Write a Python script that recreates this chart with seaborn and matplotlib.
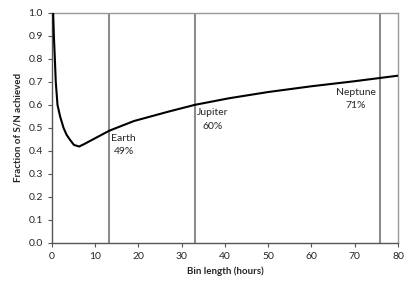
import matplotlib
matplotlib.use('Agg')
import matplotlib.pyplot as plt
import seaborn as sns
import pandas as pd

# Curve
bin_hours = [0.3, 0.46, 0.69, 0.9, 1.3, 1.9, 2.7, 3.4, 4.2, 5.1, 6.3, 7.5, 9.0, 11.0,
             13.3, 16, 19, 22.7, 27, 33, 41, 50, 60, 70, 75.8, 80]
sn_fraction = [1.0, 0.9, 0.8, 0.7, 0.6, 0.55, 0.5, 0.47, 0.448, 0.426, 0.419, 0.43, 0.445, 0.465,
               0.488, 0.508, 0.53, 0.549, 0.571, 0.60, 0.629, 0.656, 0.681, 0.703, 0.717, 0.727]

planets = ['Earth', 'Jupiter', 'Neptune']
planet_hours = [13.2, 33.1, 75.8]
planet_pct = ['49%', '60%', '71%']
label_x = [16.6, 37.1, 70.3]
name_y = [0.456, 0.565, 0.652]
pct_y = [0.396, 0.504, 0.596]

sns.set_style('white')
plt.rcParams['font.family'] = ['Lato', 'DejaVu Sans']

df = pd.DataFrame({'hours': bin_hours, 'frac': sn_fraction})

fig = plt.figure(figsize=(4.15, 2.93), dpi=100)
ax = fig.add_axes([0.125, 0.171, 0.834, 0.785])

for h in planet_hours:
    ax.axvline(h, color='#8c8c8c', lw=1.5, zorder=1)

sns.lineplot(data=df, x='hours', y='frac', color='black', lw=1.5, ax=ax, zorder=3)

for name, pct, lx, ny, py in zip(planets, planet_pct, label_x, name_y, pct_y):
    ax.text(lx, ny, name, ha='center', va='center', fontsize=7.5)
    ax.text(lx, py, pct, ha='center', va='center', fontsize=7.5)

ax.set_xlim(0, 80)
ax.set_ylim(0, 1.0)
ax.set_xticks(range(0, 81, 10))
ax.set_yticks([i / 10 for i in range(11)])
ax.set_yticklabels([f'{i / 10:.1f}' for i in range(11)])
ax.tick_params(labelsize=7.5, direction='out', length=3, width=0.8, color='#555555',
               bottom=True, left=True)
ax.set_xlabel('Bin length (hours)', fontsize=7, fontweight='bold')
ax.set_ylabel('Fraction of S/N achieved', fontsize=7, fontweight='bold')

for s in ['top', 'right']:
    ax.spines[s].set_color('#999999')
for s in ['left', 'bottom']:
    ax.spines[s].set_color('#555555')
for s in ax.spines.values():
    s.set_linewidth(1.0)

fig.savefig('out.png', dpi=100)
